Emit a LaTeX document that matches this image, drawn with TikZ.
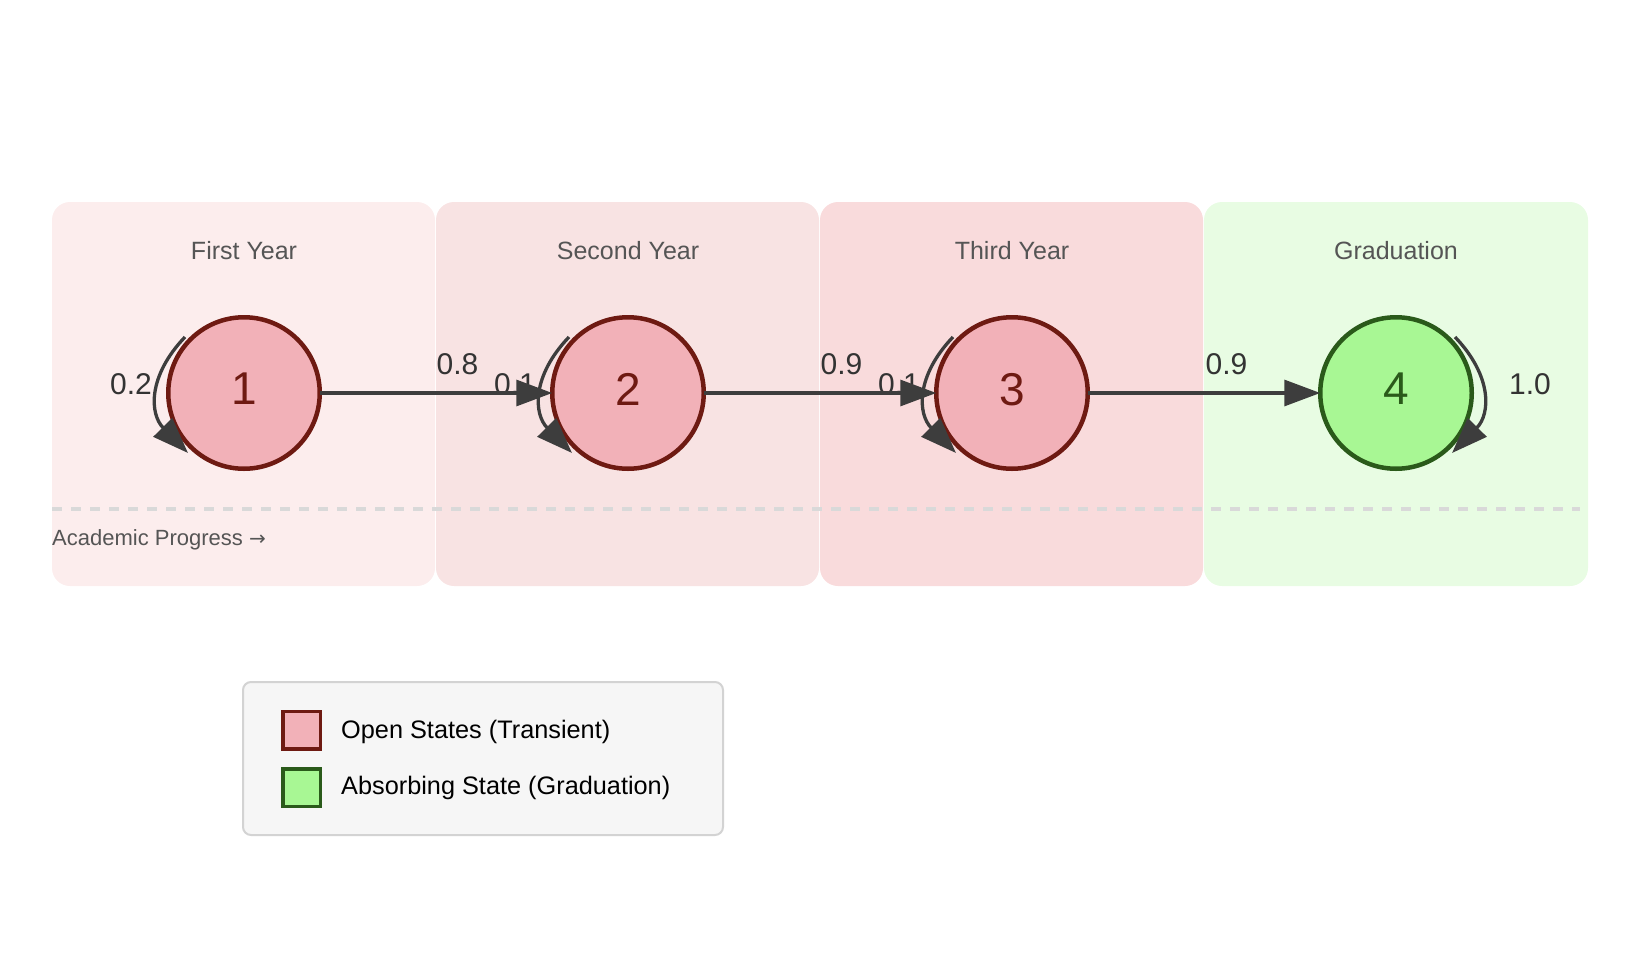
\documentclass[tikz,border=0pt]{standalone}
\usepackage{fontspec}
\setmainfont{Liberation Sans}
\newfontfamily\arrowfont{DejaVu Sans}
\usepackage{xcolor}
\usetikzlibrary{arrows.meta}

\definecolor{yrone}{HTML}{FCEDED}
\definecolor{yrtwo}{HTML}{F8E3E3}
\definecolor{yrthree}{HTML}{F9DBDC}
\definecolor{yrgrad}{HTML}{E8FCE3}
\definecolor{openfill}{HTML}{F2B1B8}
\definecolor{opendark}{HTML}{6E1A12}
\definecolor{absfill}{HTML}{A8F794}
\definecolor{absdark}{HTML}{2A5A1A}
\definecolor{edgegray}{HTML}{3D3D3D}
\definecolor{labelgray}{HTML}{333333}
\definecolor{titlegray}{HTML}{555555}
\definecolor{dashgray}{HTML}{D9D9D9}
\definecolor{legfill}{HTML}{F6F6F6}
\definecolor{legdraw}{HTML}{D3D3D3}

\begin{document}
\begin{tikzpicture}[x=1pt,y=-1pt,
  panel/.style={rounded corners=18pt},
  yeartitle/.style={text=titlegray,font=\fontsize{25}{30}\selectfont},
  openstate/.style={circle,draw=opendark,fill=openfill,line width=4.5pt,minimum size=151.5pt,inner sep=0pt,outer sep=0pt,text=opendark,text depth=8pt,font=\fontsize{46}{54}\selectfont},
  absstate/.style={openstate,draw=absdark,fill=absfill,text=absdark},
  trans/.style={draw=edgegray,line width=3.3pt,-{Triangle[length=36pt,width=26pt]}},
  prob/.style={text=labelgray,font=\fontsize{30}{36}\selectfont},
  swatch/.style={rectangle,line width=3.5pt,minimum size=37.5pt,inner sep=0pt,outer sep=0pt},
  legendtext/.style={anchor=west,inner sep=0pt,font=\fontsize{25.3}{30}\selectfont}]
\useasboundingbox (0,0) rectangle (1636,972);
% year panels
\fill[panel,yrone] (52,202) rectangle (435,586);
\fill[panel,yrtwo] (436,202) rectangle (819,586);
\fill[panel,yrthree] (820,202) rectangle (1203,586);
\fill[panel,yrgrad] (1204,202) rectangle (1588,586);
\node[yeartitle] (t1) at (244,251) {First Year};
\node[yeartitle] (t2) at (628,251) {Second Year};
\node[yeartitle] (t3) at (1012,251) {Third Year};
\node[yeartitle] (t4) at (1396,251) {Graduation};
% progress line
\coordinate (pa) at (52,509);
\coordinate (pb) at (1580,509);
\draw[dashgray,line width=3.5pt,dash pattern=on 10pt off 9pt] (pa) -- (pb);
\node[anchor=west,inner sep=0pt,text=titlegray,font=\fontsize{22}{26}\selectfont] (prog) at (52,540) {Academic Progress {\arrowfont\fontsize{20}{24}\selectfont →}};
% probabilities
\node[prob] (p11) at (131,384) {0.2};
\node[prob] (p12) at (457.5,364) {0.8};
\node[prob] (p22) at (515,384) {0.1};
\node[prob] (p23) at (841.5,364) {0.9};
\node[prob] (p33) at (899,384) {0.1};
\node[prob] (p34) at (1226.5,364) {0.9};
\node[prob] (p44) at (1530,384) {1.0};
% states
\node[openstate] (s1) at (244,393) {1};
\node[openstate] (s2) at (628,393) {2};
\node[openstate] (s3) at (1012,393) {3};
\node[absstate] (s4) at (1396,393) {4};
% transitions
\draw[trans] (s1) -- (s2);
\draw[trans] (s2) -- (s3);
\draw[trans] (s3) -- (s4);
\draw[trans] ([shift={(-59,-56)}]s1.center) .. controls ([shift={(-96.7,-16.6)}]s1.center) and ([shift={(-94.3,21.2)}]s1.center) .. ([shift={(-56,60)}]s1.center);
\draw[trans] ([shift={(-59,-56)}]s2.center) .. controls ([shift={(-96.7,-16.6)}]s2.center) and ([shift={(-94.3,21.2)}]s2.center) .. ([shift={(-56,60)}]s2.center);
\draw[trans] ([shift={(-59,-56)}]s3.center) .. controls ([shift={(-96.7,-16.6)}]s3.center) and ([shift={(-94.3,21.2)}]s3.center) .. ([shift={(-56,60)}]s3.center);
\draw[trans] ([shift={(59,-56)}]s4.center) .. controls ([shift={(96.7,-16.6)}]s4.center) and ([shift={(94.3,21.2)}]s4.center) .. ([shift={(56,60)}]s4.center);
% legend
\draw[rounded corners=8pt,fill=legfill,draw=legdraw,line width=2pt] (243,682) rectangle (723,835);
\node[swatch,draw=opendark,fill=openfill] (k1) at (301.5,730) {};
\node[swatch,draw=absdark,fill=absfill] (k2) at (301.5,787.5) {};
\node[legendtext] (l1) at (341,731.5) {Open States (Transient)};
\node[legendtext] (l2) at (341,788) {Absorbing State (Graduation)};
\end{tikzpicture}
\end{document}
